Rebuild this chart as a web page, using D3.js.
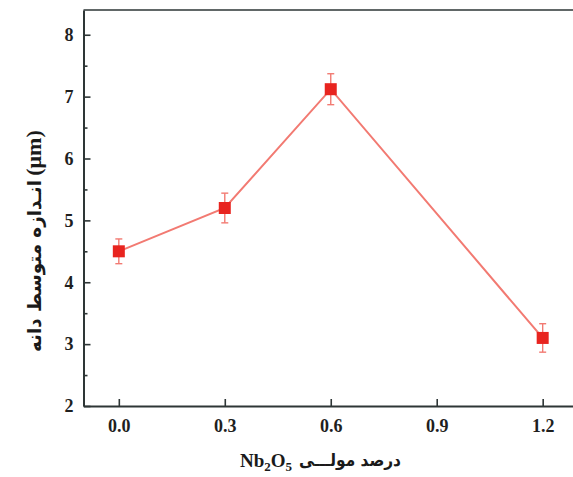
<!DOCTYPE html>
<html>
<head>
<meta charset="utf-8">
<script src="https://cdn.jsdelivr.net/npm/d3@7"></script>
<style>
  html, body { margin: 0; padding: 0; background: #fff; }
  svg { display: block; }
</style>
</head>
<body>
<script>
// Mean grain size versus Nb2O5 mole percent
const nb2o5Mol = [0.0, 0.3, 0.6, 1.2];
const grainSize = [4.5, 5.2, 7.12, 3.1];
const grainErr = [0.2, 0.24, 0.25, 0.23];
const xTicks = [0.0, 0.3, 0.6, 0.9, 1.2];
const yTicks = [2, 3, 4, 5, 6, 7, 8];
const yMinorTicks = [2.5, 3.5, 4.5, 5.5, 6.5, 7.5];

const W = 573, H = 477;
const svg = d3.select("body").append("svg").attr("width", W).attr("height", H);

const x = d3.scaleLinear().domain([-0.1, 1.3]).range([83.5, 578]);
const y = d3.scaleLinear().domain([2, 8.4]).range([406, 10]);

const axisColor = "#2e3636";
const lineColor = "#f27a72";
const markColor = "#e8241f";
const serif = "'Liberation Serif', 'Times New Roman', serif";
const persian = "'DejaVu Sans', sans-serif";

// frame (top and right)
svg.append("path")
  .attr("d", `M${x(-0.1)},${y(8.4)}H${x(1.3)}V${y(2)}`)
  .attr("fill", "none").attr("stroke", axisColor).attr("stroke-width", 1.6);

// bottom axis, ticks pointing inward
const xAxis = d3.axisBottom(x).tickValues(xTicks).tickFormat(d3.format(".1f"))
  .tickSizeInner(-7).tickSizeOuter(0).tickPadding(13);
const gx = svg.append("g").attr("transform", `translate(0,${y(2)})`).call(xAxis);

// left axis, major + minor ticks pointing inward
const yAxis = d3.axisLeft(y).tickValues(yTicks).tickFormat(d3.format("d"))
  .tickSizeInner(-7).tickSizeOuter(0).tickPadding(10);
const gy = svg.append("g").attr("transform", `translate(${x(-0.1)},0)`).call(yAxis);
const gyMinor = svg.append("g").attr("transform", `translate(${x(-0.1)},0)`)
  .call(d3.axisLeft(y).tickValues(yMinorTicks).tickFormat("").tickSizeInner(-4).tickSizeOuter(0));
gyMinor.select(".domain").remove();

[gx, gy, gyMinor].forEach(g => {
  g.selectAll(".domain").attr("stroke", axisColor).attr("stroke-width", 2);
  g.selectAll(".tick line").attr("stroke", axisColor).attr("stroke-width", 1.6);
  g.selectAll(".tick text").attr("fill", "#1f1f1f")
    .style("font-family", serif).style("font-weight", "bold").style("font-size", "18px");
});

// connecting line
svg.append("path")
  .datum(nb2o5Mol.map((d, i) => [d, grainSize[i]]))
  .attr("d", d3.line().x(d => x(d[0])).y(d => y(d[1])))
  .attr("fill", "none").attr("stroke", lineColor).attr("stroke-width", 2);

// error bars
const eb = svg.append("g").attr("stroke", lineColor).attr("stroke-width", 1.4).attr("fill", "none");
nb2o5Mol.forEach((d, i) => {
  const cx = x(d), y0 = y(grainSize[i] - grainErr[i]), y1 = y(grainSize[i] + grainErr[i]);
  eb.append("line").attr("x1", cx).attr("x2", cx).attr("y1", y0).attr("y2", y1);
  eb.append("line").attr("x1", cx - 3.5).attr("x2", cx + 3.5).attr("y1", y0).attr("y2", y0);
  eb.append("line").attr("x1", cx - 3.5).attr("x2", cx + 3.5).attr("y1", y1).attr("y2", y1);
});

// square markers
const ms = 12;
svg.append("g").selectAll("rect").data(nb2o5Mol).join("rect")
  .attr("x", d => x(d) - ms / 2)
  .attr("y", (d, i) => y(grainSize[i]) - ms / 2)
  .attr("width", ms).attr("height", ms)
  .attr("fill", markColor);

// x-axis title: Nb2O5 + Persian
const nb = svg.append("text").attr("x", 292).attr("y", 467).attr("text-anchor", "end")
  .style("font-family", serif).style("font-weight", "bold").style("font-size", "19px").attr("fill", "#1a1a1a");
nb.append("tspan").text("Nb");
nb.append("tspan").attr("font-size", "13px").attr("dy", 4).text("2");
nb.append("tspan").attr("dy", -4).text("O");
nb.append("tspan").attr("font-size", "13px").attr("dy", 4).text("5");
svg.append("text").attr("x", 350).attr("y", 466).attr("text-anchor", "middle")
  .attr("textLength", 102).attr("lengthAdjust", "spacingAndGlyphs")
  .style("font-family", persian).style("font-weight", "bold").style("font-size", "17px")
  .attr("fill", "#1a1a1a")
  .text("درصد مولـــی");

// y-axis title (rotated): Persian then (μm)
const yt = svg.append("g").attr("transform", "translate(41,0) rotate(-90)");
yt.append("text").attr("x", -266).attr("text-anchor", "middle")
  .attr("textLength", 172).attr("lengthAdjust", "spacingAndGlyphs")
  .style("font-family", persian).style("font-weight", "bold").style("font-size", "19px")
  .attr("fill", "#1a1a1a")
  .text("انـدازه متوسط دانه");
yt.append("text").attr("x", -153).attr("text-anchor", "middle")
  .style("font-family", serif).style("font-weight", "bold").style("font-size", "22px")
  .attr("fill", "#1a1a1a")
  .text("(μm)");
</script>
</body>
</html>
